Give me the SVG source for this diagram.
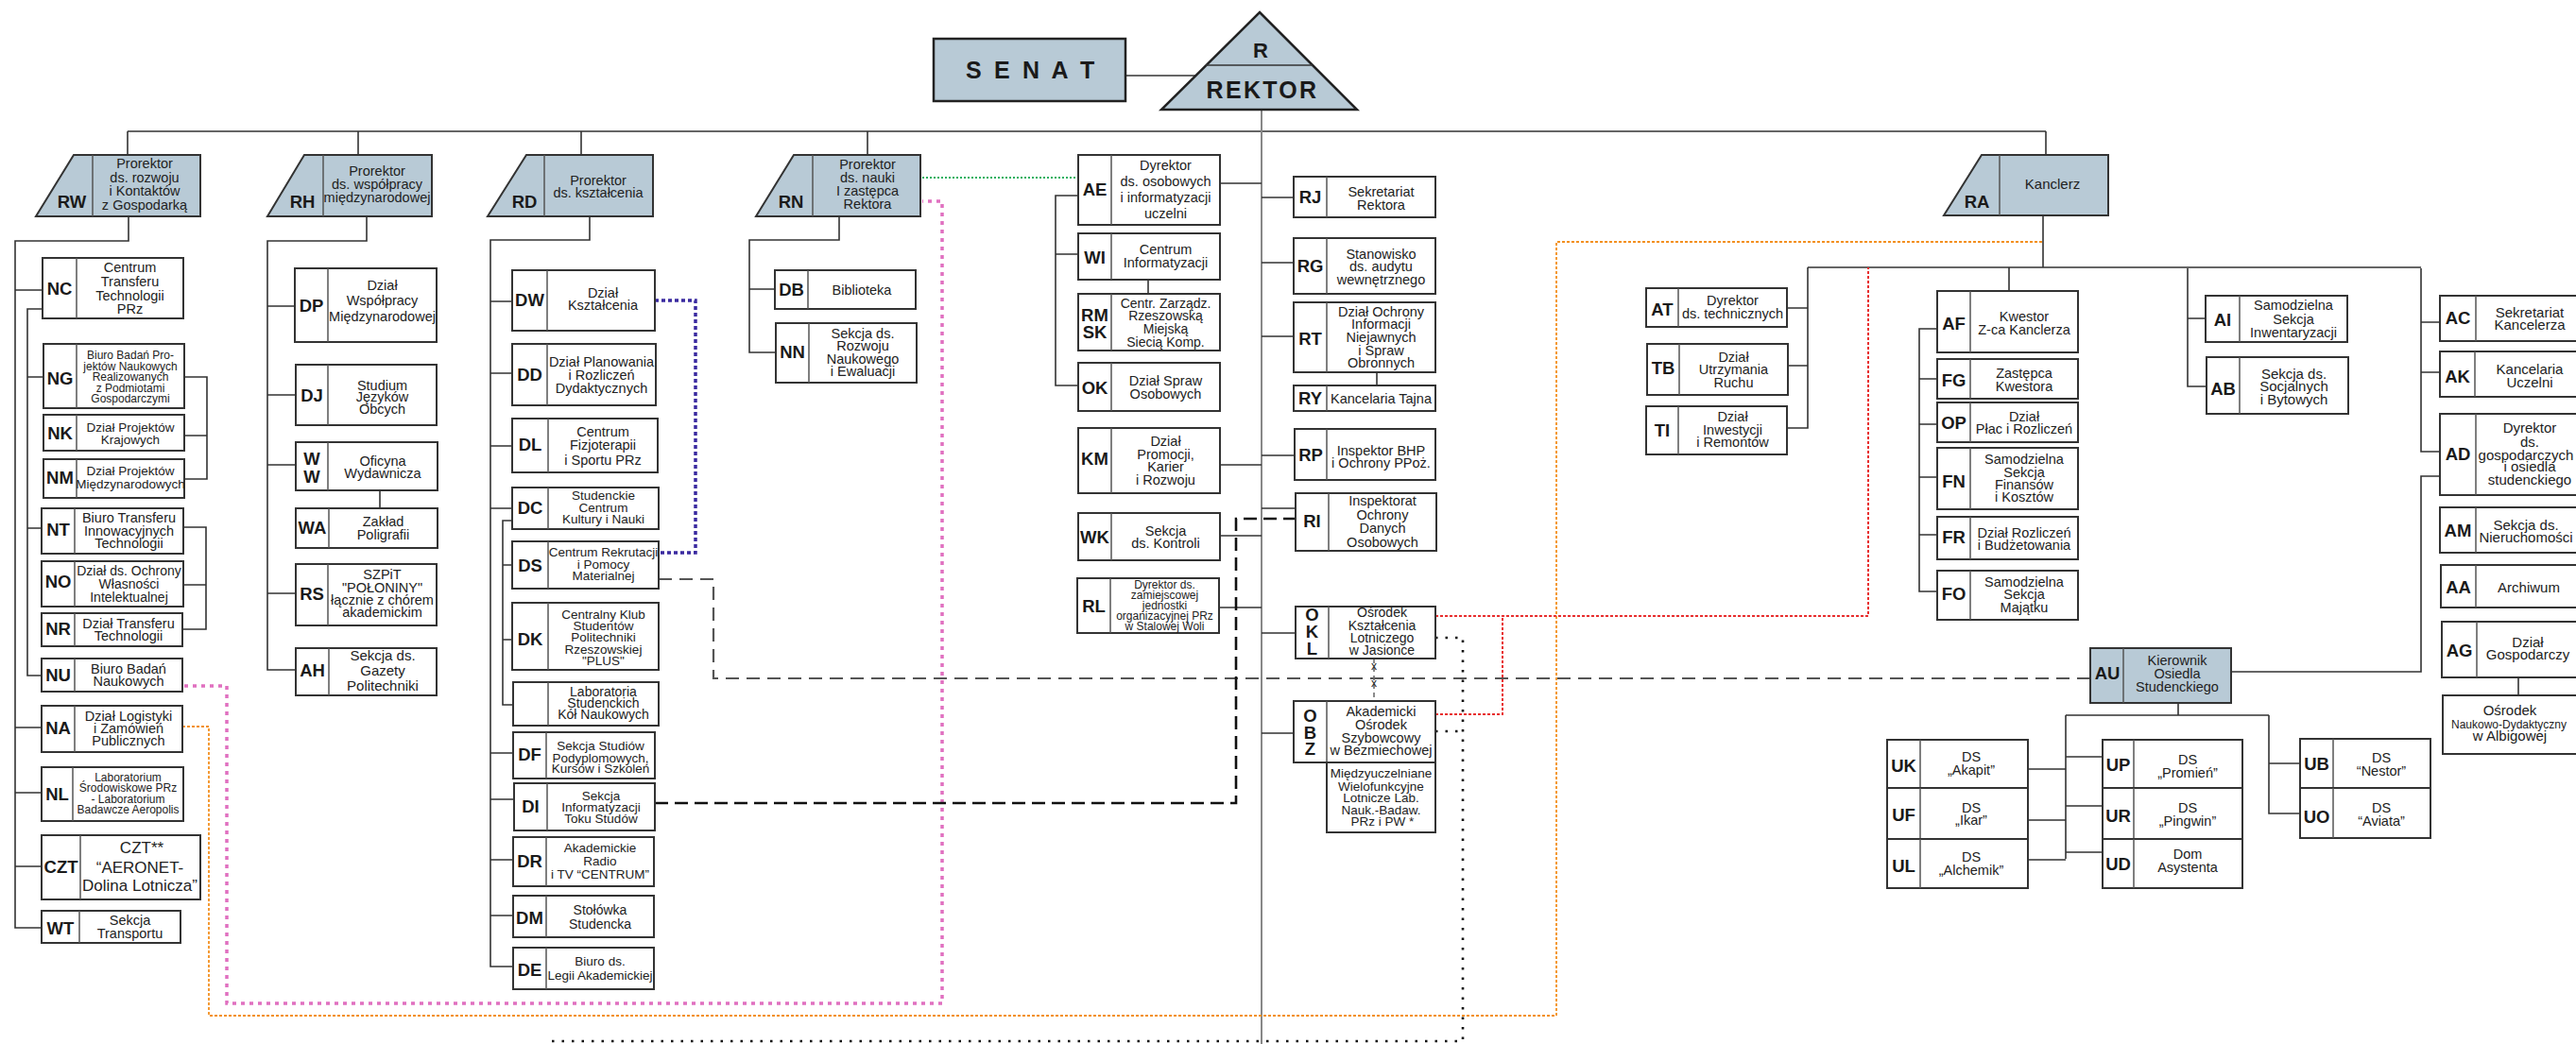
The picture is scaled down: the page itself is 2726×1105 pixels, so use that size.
<svg xmlns="http://www.w3.org/2000/svg" width="2726" height="1105" viewBox="0 0 2726 1105">
<style>
.bx{fill:#fff;stroke:#333;stroke-width:2}
.hd{fill:#b8cad6;stroke:#333;stroke-width:2}
.dv{stroke:#555;stroke-width:1.5}
.lb{font-family:'Liberation Sans',Arial,sans-serif;font-weight:bold;font-size:18.5px;fill:#1a1a1a;text-anchor:middle}
.tx{font-family:'Liberation Sans',Arial,sans-serif;font-size:14.5px;fill:#222;text-anchor:middle}
.s12{font-size:12px}.s135{font-size:13.5px}.s14{font-size:14px}.s15{font-size:15px}.s17{font-size:17px}
.c{fill:none;stroke:#333;stroke-width:1.6}
.cg{fill:none;stroke:#888;stroke-width:2}
</style>
<rect width="2726" height="1105" fill="#fff"/>

<g id="connectors">
<path class="c" d="M135,139 H2165 M135,139 V164 M379,139 V164 M615,139 V164 M918,139 V164 M2165,139 V164"/>
<path class="c" d="M1191,80 H1266"/>
<path class="cg" d="M1335,116 V1105"/>
<path class="c" d="M136,229 V255 H16 V982 H44 M16,307 H45 M16,770 H44 M16,839 H44 M16,917 H44"/>
<path class="c" d="M45,327 H29 V715 H44 M29,399 H46 M29,559 H44"/>
<path class="c" d="M195,399 H219 V507 H195 M195,461 H219"/>
<path class="c" d="M194,558 H218 V666 H193 M194,619 H218"/>
<path class="c" d="M388,229 V255 H283 V709 H313 M283,324 H312 M283,418 H313 M283,492 H313 M283,628 H313 M402,519 V538"/>
<path class="c" d="M624,229 V254 H519 V1023 H543 M519,319 H542 M519,395 H542 M519,472 H542 M519,538 H542 M519,797 H543 M519,846 H544 M519,910 H543 M519,969 H543"/>
<path class="c" d="M542,551 H532 V746 H543 M532,598 H542 M532,677 H542"/>
<path class="c" d="M888,229 V254 H793 V373 H821 M793,306 H820"/>
<path class="c" d="M1291,194 H1335 M1335,209 H1369 M1335,278 H1369 M1335,356 H1369 M1291,492 H1335 M1335,482 H1370 M1335,538 H1371 M1291,567 H1335 M1290,643 H1335 M1335,670 H1371 M1335,776 H1369"/>
<path class="c" d="M1141,207 H1117 V408 H1141 M1117,269 H1141 M1215,296 V311 M1457,394 V408"/>
<path class="c" d="M2162,228 V283 M1913,283 H2562 M1913,283 V453 H1891 M1891,326 H1913 M1892,387 H1913"/>
<path class="c" d="M2126,283 V308 M2050,348 H2031 V626 H2050 M2031,401 H2050 M2031,449 H2050 M2031,505 H2050 M2031,566 H2050"/>
<path class="c" d="M2315,284 V409 H2335 M2315,337 H2334"/>
<path class="c" d="M2562,284 V478 H2582 M2562,341 H2582 M2562,394 H2582"/>
<path class="c" d="M2582,504 H2562 V711 H2361 M2665,717 V736"/>
<path class="c" d="M2305,744 V757 M2186,757 H2401 M2186,757 V909 M2186,801 H2225 M2186,853 H2225 M2186,902 H2225 M2146,814 H2186 M2146,868 H2186 M2146,910 H2186 M2401,757 V861 H2434 M2401,808 H2434"/>
<path fill="none" stroke="#e070c0" stroke-width="3.5" stroke-dasharray="4 5" d="M195,726 H240 V1062 H997 V213 H976"/>
<path fill="none" stroke="#f39020" stroke-width="1.8" stroke-dasharray="3 2" d="M193,769 H221 V1075 H1647 V256 H2162"/>
<path fill="none" stroke="#22b060" stroke-width="1.8" stroke-dasharray="2 2" d="M976,188 H1141"/>
<path fill="none" stroke="#3a2aa0" stroke-width="3.5" stroke-dasharray="4 3" d="M693,318 H736 V585 H697"/>
<path fill="none" stroke="#555" stroke-width="2.2" stroke-dasharray="14 8" d="M697,613 H755 V718 H2212"/>
<path fill="none" stroke="#111" stroke-width="2.6" stroke-dasharray="14 7" d="M693,850 H1308 V549 H1371"/>
<path fill="none" stroke="#e83030" stroke-width="2" stroke-dasharray="3 2" d="M1519,652 H1977 V283 M1519,756 H1590 V652"/>
<path fill="none" stroke="#111" stroke-width="2.6" stroke-dasharray="2.5 8" d="M1519,675 H1548 V1102 H579 M1519,774 H1548"/>
<path fill="none" stroke="#666" stroke-width="1.5" stroke-dasharray="5 4" d="M1454,697 V742"/>
<text class="tx s12" x="1454" y="709">x</text>
<text class="tx s12" x="1454" y="727">x</text>
</g>

<g id="SENAT"><rect x="988" y="41" width="203" height="66" fill="#b8cad6" stroke="#222" stroke-width="2.5"/>
<text x="1022" y="83" font-family="'Liberation Sans',Arial,sans-serif" font-weight="bold" font-size="25" letter-spacing="3.2" fill="#1a1a1a">S E N A T</text></g>

<g id="R"><polygon points="1333,13 1436,116 1229,116" fill="#b8cad6" stroke="#222" stroke-width="2.5"/>
<line x1="1276" y1="69" x2="1389" y2="69" stroke="#333" stroke-width="1.5"/>
<text x="1334" y="61" text-anchor="middle" font-family="'Liberation Sans',Arial,sans-serif" font-weight="bold" font-size="22" fill="#1a1a1a">R</text>
<text x="1336" y="104" text-anchor="middle" font-family="'Liberation Sans',Arial,sans-serif" font-weight="bold" font-size="25" letter-spacing="2.3" fill="#1a1a1a">REKTOR</text></g>

<g id="RW"><polygon class="hd" points="78,164 212,164 212,229 38,229"/><line class="dv" x1="98" y1="164" x2="98" y2="229"/>
<text class="lb" x="76" y="220">RW</text>
<text class="tx"><tspan x="153" y="178">Prorektor</tspan><tspan x="153" y="193">ds. rozwoju</tspan><tspan x="153" y="207">i Kontaktów</tspan><tspan x="153" y="222">z Gospodarką</tspan></text></g>
<g id="RH"><polygon class="hd" points="322,164 457,164 457,229 283,229"/><line class="dv" x1="342" y1="164" x2="342" y2="229"/>
<text class="lb" x="320" y="220">RH</text>
<text class="tx"><tspan x="399" y="186">Prorektor</tspan><tspan x="399" y="200">ds. współpracy</tspan><tspan x="399" y="214">międzynarodowej</tspan></text></g>
<g id="RD"><polygon class="hd" points="557,164 691,164 691,229 516,229"/><line class="dv" x1="576" y1="164" x2="576" y2="229"/>
<text class="lb" x="555" y="220">RD</text>
<text class="tx"><tspan x="633" y="196">Prorektor</tspan><tspan x="633" y="209">ds. kształcenia</tspan></text></g>
<g id="RN"><polygon class="hd" points="840,164 974,164 974,229 800,229" stroke-width="2.5"/><line class="dv" x1="860" y1="164" x2="860" y2="229"/>
<text class="lb" x="837" y="220">RN</text>
<text class="tx"><tspan x="918" y="179">Prorektor</tspan><tspan x="918" y="193">ds. nauki</tspan><tspan x="918" y="207">I zastępca</tspan><tspan x="918" y="221">Rektora</tspan></text></g>
<g id="RA"><polygon class="hd" points="2097,164 2231,164 2231,228 2057,228"/><line class="dv" x1="2116" y1="164" x2="2116" y2="228"/>
<text class="lb" x="2092" y="220">RA</text>
<text class="tx s15" x="2172" y="200">Kanclerz</text></g>

<g id="NC"><rect class="bx" x="45" y="273" width="149" height="64"/><line class="dv" x1="81" y1="273" x2="81" y2="337"/><text class="lb" x="63" y="312">NC</text>
<text class="tx"><tspan x="137.5" y="288">Centrum</tspan><tspan x="137.5" y="303">Transferu</tspan><tspan x="137.5" y="318">Technologii</tspan><tspan x="137.5" y="332">PRz</tspan></text></g>
<g id="NG"><rect class="bx" x="46" y="364" width="149" height="68"/><line class="dv" x1="81" y1="364" x2="81" y2="432"/><text class="lb" x="63.5" y="407">NG</text>
<text class="tx s12"><tspan x="138" y="380">Biuro Badań Pro-</tspan><tspan x="138" y="392">jektów Naukowych</tspan><tspan x="138" y="403">Realizowanych</tspan><tspan x="138" y="415">z Podmiotami</tspan><tspan x="138" y="426">Gospodarczymi</tspan></text></g>
<g id="NK"><rect class="bx" x="46" y="439" width="149" height="38"/><line class="dv" x1="81" y1="439" x2="81" y2="477"/><text class="lb" x="63.5" y="465">NK</text>
<text class="tx s135"><tspan x="138" y="457">Dział Projektów</tspan><tspan x="138" y="470">Krajowych</tspan></text></g>
<g id="NM"><rect class="bx" x="46" y="486" width="149" height="41"/><line class="dv" x1="81" y1="486" x2="81" y2="527"/><text class="lb" x="63.5" y="512">NM</text>
<text class="tx s135"><tspan x="138" y="503">Dział Projektów</tspan><tspan x="138" y="517">Międzynarodowych</tspan></text></g>
<g id="NT"><rect class="bx" x="44" y="538" width="150" height="48"/><line class="dv" x1="79" y1="538" x2="79" y2="586"/><text class="lb" x="61.5" y="567">NT</text>
<text class="tx"><tspan x="136.5" y="553">Biuro Transferu</tspan><tspan x="136.5" y="567">Innowacyjnych</tspan><tspan x="136.5" y="580">Technologii</tspan></text></g>
<g id="NO"><rect class="bx" x="44" y="594" width="150" height="48"/><line class="dv" x1="79" y1="594" x2="79" y2="642"/><text class="lb" x="61.5" y="622">NO</text>
<text class="tx s14"><tspan x="136.5" y="609">Dział ds. Ochrony</tspan><tspan x="136.5" y="623">Własności</tspan><tspan x="136.5" y="637">Intelektualnej</tspan></text></g>
<g id="NR"><rect class="bx" x="44" y="649" width="149" height="35"/><line class="dv" x1="79" y1="649" x2="79" y2="684"/><text class="lb" x="61.5" y="672">NR</text>
<text class="tx"><tspan x="136" y="665">Dział Transferu</tspan><tspan x="136" y="678">Technologii</tspan></text></g>
<g id="NU"><rect class="bx" x="44" y="697" width="149" height="35"/><line class="dv" x1="79" y1="697" x2="79" y2="732"/><text class="lb" x="61.5" y="721">NU</text>
<text class="tx"><tspan x="136" y="713">Biuro Badań</tspan><tspan x="136" y="726">Naukowych</tspan></text></g>
<g id="NA"><rect class="bx" x="44" y="747" width="149" height="49"/><line class="dv" x1="79" y1="747" x2="79" y2="796"/><text class="lb" x="61.5" y="777">NA</text>
<text class="tx"><tspan x="136" y="763">Dział Logistyki</tspan><tspan x="136" y="776">i Zamówień</tspan><tspan x="136" y="789">Publicznych</tspan></text></g>
<g id="NL"><rect class="bx" x="44" y="812" width="150" height="57"/><line class="dv" x1="77" y1="812" x2="77" y2="869"/><text class="lb" x="60.5" y="847">NL</text>
<text class="tx s12"><tspan x="135.5" y="827">Laboratorium</tspan><tspan x="135.5" y="838">Środowiskowe PRz</tspan><tspan x="135.5" y="850">- Laboratorium</tspan><tspan x="135.5" y="861">Badawcze Aeropolis</tspan></text></g>
<g id="CZT"><rect class="bx" x="44" y="884" width="168" height="68"/><line class="dv" x1="85" y1="884" x2="85" y2="952"/><text class="lb" x="64.5" y="924">CZT</text>
<text class="tx s17"><tspan x="150" y="903">CZT**</tspan><tspan x="148" y="924">“AERONET-</tspan><tspan x="148" y="943">Dolina Lotnicza”</tspan></text></g>
<g id="WT"><rect class="bx" x="44" y="964" width="147" height="34"/><line class="dv" x1="84" y1="964" x2="84" y2="998"/><text class="lb" x="64" y="989">WT</text>
<text class="tx"><tspan x="137.5" y="979">Sekcja</tspan><tspan x="137.5" y="993">Transportu</tspan></text></g>

<g id="DP"><rect class="bx" x="312" y="284" width="150" height="78"/><line class="dv" x1="347" y1="284" x2="347" y2="362"/><text class="lb" x="329.5" y="330">DP</text>
<text class="tx"><tspan x="404.5" y="307">Dział</tspan><tspan x="404.5" y="323">Współpracy</tspan><tspan x="404.5" y="340">Międzynarodowej</tspan></text></g>
<g id="DJ"><rect class="bx" x="313" y="386" width="149" height="64"/><line class="dv" x1="347" y1="386" x2="347" y2="450"/><text class="lb" x="330" y="425">DJ</text>
<text class="tx"><tspan x="404.5" y="413">Studium</tspan><tspan x="404.5" y="425">Języków</tspan><tspan x="404.5" y="438">Obcych</tspan></text></g>
<g id="WW"><rect class="bx" x="313" y="468" width="150" height="51"/><line class="dv" x1="347" y1="468" x2="347" y2="519"/><text class="lb"><tspan x="330" y="492">W</tspan><tspan x="330" y="511">W</tspan></text>
<text class="tx"><tspan x="405" y="493">Oficyna</tspan><tspan x="405" y="506">Wydawnicza</tspan></text></g>
<g id="WA"><rect class="bx" x="313" y="538" width="150" height="42"/><line class="dv" x1="348" y1="538" x2="348" y2="580"/><text class="lb" x="330.5" y="565">WA</text>
<text class="tx"><tspan x="405.5" y="557">Zakład</tspan><tspan x="405.5" y="571">Poligrafii</tspan></text></g>
<g id="RS"><rect class="bx" x="313" y="597" width="149" height="65"/><line class="dv" x1="347" y1="597" x2="347" y2="662"/><text class="lb" x="330" y="635">RS</text>
<text class="tx"><tspan x="404.5" y="613">SZPiT</tspan><tspan x="404.5" y="627">"POŁONINY"</tspan><tspan x="404.5" y="640">łącznie z chórem</tspan><tspan x="404.5" y="653">akademickim</tspan></text></g>
<g id="AH"><rect class="bx" x="313" y="686" width="149" height="50"/><line class="dv" x1="348" y1="686" x2="348" y2="736"/><text class="lb" x="330.5" y="716">AH</text>
<text class="tx s15"><tspan x="405" y="699">Sekcja ds.</tspan><tspan x="405" y="715">Gazety</tspan><tspan x="405" y="731">Politechniki</tspan></text></g>

<g id="DW"><rect class="bx" x="542" y="286" width="151" height="64"/><line class="dv" x1="579" y1="286" x2="579" y2="350"/><text class="lb" x="560.5" y="324">DW</text>
<text class="tx"><tspan x="638" y="315">Dział</tspan><tspan x="638" y="328">Kształcenia</tspan></text></g>
<g id="DD"><rect class="bx" x="542" y="364" width="152" height="65"/><line class="dv" x1="579" y1="364" x2="579" y2="429"/><text class="lb" x="560.5" y="403">DD</text>
<text class="tx"><tspan x="636.5" y="388">Dział Planowania</tspan><tspan x="636.5" y="402">i Rozliczeń</tspan><tspan x="636.5" y="416">Dydaktycznych</tspan></text></g>
<g id="DL"><rect class="bx" x="542" y="443" width="154" height="57"/><line class="dv" x1="580" y1="443" x2="580" y2="500"/><text class="lb" x="561" y="477">DL</text>
<text class="tx"><tspan x="638" y="462">Centrum</tspan><tspan x="638" y="476">Fizjoterapii</tspan><tspan x="638" y="492">i Sportu PRz</tspan></text></g>
<g id="DC"><rect class="bx" x="542" y="516" width="155" height="44"/><line class="dv" x1="580" y1="516" x2="580" y2="560"/><text class="lb" x="561" y="544">DC</text>
<text class="tx s135"><tspan x="638.5" y="529">Studenckie</tspan><tspan x="638.5" y="542">Centrum</tspan><tspan x="638.5" y="554">Kultury i Nauki</tspan></text></g>
<g id="DS"><rect class="bx" x="542" y="573" width="155" height="50"/><line class="dv" x1="580" y1="573" x2="580" y2="623"/><text class="lb" x="561" y="605">DS</text>
<text class="tx s135"><tspan x="638.5" y="589">Centrum Rekrutacji</tspan><tspan x="638.5" y="602">i Pomocy</tspan><tspan x="638.5" y="614">Materialnej</tspan></text></g>
<g id="DK"><rect class="bx" x="542" y="638" width="155" height="71"/><line class="dv" x1="580" y1="638" x2="580" y2="709"/><text class="lb" x="561" y="683">DK</text>
<text class="tx s135"><tspan x="638.5" y="655">Centralny Klub</tspan><tspan x="638.5" y="667">Studentów</tspan><tspan x="638.5" y="679">Politechniki</tspan><tspan x="638.5" y="692">Rzeszowskiej</tspan><tspan x="638.5" y="704">"PLUS"</tspan></text></g>
<g id="LSKN"><rect class="bx" x="543" y="722" width="154" height="46"/><line class="dv" x1="580" y1="722" x2="580" y2="768"/>
<text class="tx s14"><tspan x="638.5" y="737">Laboratoria</tspan><tspan x="638.5" y="749">Studenckich</tspan><tspan x="638.5" y="761">Kół Naukowych</tspan></text></g>
<g id="DF"><rect class="bx" x="543" y="775" width="150" height="49"/><line class="dv" x1="578" y1="775" x2="578" y2="824"/><text class="lb" x="560.5" y="805">DF</text>
<text class="tx s135"><tspan x="635.5" y="794">Sekcja Studiów</tspan><tspan x="635.5" y="807">Podyplomowych,</tspan><tspan x="635.5" y="818">Kursów i Szkoleń</tspan></text></g>
<g id="DI"><rect class="bx" x="544" y="829" width="149" height="50"/><line class="dv" x1="579" y1="829" x2="579" y2="879"/><text class="lb" x="561.5" y="860">DI</text>
<text class="tx s135"><tspan x="636" y="847">Sekcja</tspan><tspan x="636" y="859">Informatyzacji</tspan><tspan x="636" y="871">Toku Studów</tspan></text></g>
<g id="DR"><rect class="bx" x="543" y="886" width="149" height="52"/><line class="dv" x1="578" y1="886" x2="578" y2="938"/><text class="lb" x="560.5" y="918">DR</text>
<text class="tx s135"><tspan x="635" y="902">Akademickie</tspan><tspan x="635" y="916">Radio</tspan><tspan x="635" y="930">i TV “CENTRUM”</tspan></text></g>
<g id="DM"><rect class="bx" x="543" y="948" width="149" height="44"/><line class="dv" x1="578" y1="948" x2="578" y2="992"/><text class="lb" x="560.5" y="978">DM</text>
<text class="tx s14"><tspan x="635" y="968">Stołówka</tspan><tspan x="635" y="983">Studencka</tspan></text></g>
<g id="DE"><rect class="bx" x="543" y="1003" width="149" height="44"/><line class="dv" x1="578" y1="1003" x2="578" y2="1047"/><text class="lb" x="560.5" y="1033">DE</text>
<text class="tx s135"><tspan x="635" y="1022">Biuro ds.</tspan><tspan x="635" y="1037">Legii Akademickiej</tspan></text></g>

<g id="DB"><rect class="bx" x="820" y="286" width="149" height="41"/><line class="dv" x1="855" y1="286" x2="855" y2="327"/><text class="lb" x="837.5" y="313">DB</text>
<text class="tx" x="912" y="312">Biblioteka</text></g>
<g id="NN"><rect class="bx" x="821" y="342" width="149" height="63"/><line class="dv" x1="856" y1="342" x2="856" y2="405"/><text class="lb" x="838.5" y="379">NN</text>
<text class="tx"><tspan x="913" y="358">Sekcja ds.</tspan><tspan x="913" y="371">Rozwoju</tspan><tspan x="913" y="385">Naukowego</tspan><tspan x="913" y="398">i Ewaluacji</tspan></text></g>

<g id="AE"><rect class="bx" x="1141" y="164" width="150" height="74"/><line class="dv" x1="1176" y1="164" x2="1176" y2="238"/><text class="lb" x="1158.5" y="207">AE</text>
<text class="tx"><tspan x="1233.5" y="180">Dyrektor</tspan><tspan x="1233.5" y="197">ds. osobowych</tspan><tspan x="1233.5" y="214">i informatyzacji</tspan><tspan x="1233.5" y="231">uczelni</tspan></text></g>
<g id="WI"><rect class="bx" x="1141" y="247" width="150" height="49"/><line class="dv" x1="1176" y1="247" x2="1176" y2="296"/><text class="lb" x="1158.5" y="279">WI</text>
<text class="tx"><tspan x="1233.5" y="269">Centrum</tspan><tspan x="1233.5" y="283">Informatyzacji</tspan></text></g>
<g id="RMSK"><rect class="bx" x="1141" y="311" width="150" height="60"/><line class="dv" x1="1176" y1="311" x2="1176" y2="371"/><text class="lb"><tspan x="1158.5" y="340">RM</tspan><tspan x="1158.5" y="358">SK</tspan></text>
<text class="tx s14"><tspan x="1233.5" y="326">Centr. Zarządz.</tspan><tspan x="1233.5" y="339">Rzeszowską</tspan><tspan x="1233.5" y="353">Miejską</tspan><tspan x="1233.5" y="367">Siecią Komp.</tspan></text></g>
<g id="OK"><rect class="bx" x="1141" y="384" width="150" height="51"/><line class="dv" x1="1176" y1="384" x2="1176" y2="435"/><text class="lb" x="1158.5" y="417">OK</text>
<text class="tx"><tspan x="1233.5" y="408">Dział Spraw</tspan><tspan x="1233.5" y="422">Osobowych</tspan></text></g>
<g id="KM"><rect class="bx" x="1141" y="453" width="150" height="69"/><line class="dv" x1="1176" y1="453" x2="1176" y2="522"/><text class="lb" x="1158.5" y="492">KM</text>
<text class="tx"><tspan x="1233.5" y="472">Dział</tspan><tspan x="1233.5" y="486">Promocji,</tspan><tspan x="1233.5" y="499">Karier</tspan><tspan x="1233.5" y="513">i Rozwoju</tspan></text></g>
<g id="WK"><rect class="bx" x="1141" y="543" width="150" height="50"/><line class="dv" x1="1176" y1="543" x2="1176" y2="593"/><text class="lb" x="1158.5" y="575">WK</text>
<text class="tx"><tspan x="1233.5" y="567">Sekcja</tspan><tspan x="1233.5" y="580">ds. Kontroli</tspan></text></g>
<g id="RL"><rect class="bx" x="1140" y="612" width="150" height="58"/><line class="dv" x1="1175" y1="612" x2="1175" y2="670"/><text class="lb" x="1157.5" y="648">RL</text>
<text class="tx s12"><tspan x="1232.5" y="623">Dyrektor ds.</tspan><tspan x="1232.5" y="634">zamiejscowej</tspan><tspan x="1232.5" y="645">jednostki</tspan><tspan x="1232.5" y="656">organizacyjnej PRz</tspan><tspan x="1232.5" y="667">w Stalowej Woli</tspan></text></g>

<g id="RJ"><rect class="bx" x="1369" y="187" width="150" height="43"/><line class="dv" x1="1404" y1="187" x2="1404" y2="230"/><text class="lb" x="1386.5" y="215">RJ</text>
<text class="tx"><tspan x="1461.5" y="208">Sekretariat</tspan><tspan x="1461.5" y="222">Rektora</tspan></text></g>
<g id="RG"><rect class="bx" x="1369" y="252" width="150" height="59"/><line class="dv" x1="1404" y1="252" x2="1404" y2="311"/><text class="lb" x="1386.5" y="288">RG</text>
<text class="tx"><tspan x="1461.5" y="274">Stanowisko</tspan><tspan x="1461.5" y="287">ds. audytu</tspan><tspan x="1461.5" y="301">wewnętrznego</tspan></text></g>
<g id="RT"><rect class="bx" x="1369" y="320" width="150" height="74"/><line class="dv" x1="1404" y1="320" x2="1404" y2="394"/><text class="lb" x="1386.5" y="365">RT</text>
<text class="tx"><tspan x="1461.5" y="335">Dział Ochrony</tspan><tspan x="1461.5" y="348">Informacji</tspan><tspan x="1461.5" y="362">Niejawnych</tspan><tspan x="1461.5" y="376">i Spraw</tspan><tspan x="1461.5" y="389">Obronnych</tspan></text></g>
<g id="RY"><rect class="bx" x="1369" y="408" width="150" height="27"/><line class="dv" x1="1404" y1="408" x2="1404" y2="435"/><text class="lb" x="1386.5" y="428">RY</text>
<text class="tx" x="1461.5" y="427">Kancelaria Tajna</text></g>
<g id="RP"><rect class="bx" x="1370" y="454" width="149" height="54"/><line class="dv" x1="1404" y1="454" x2="1404" y2="508"/><text class="lb" x="1387" y="488">RP</text>
<text class="tx"><tspan x="1461.5" y="482">Inspektor BHP</tspan><tspan x="1461.5" y="495">i Ochrony PPoż.</tspan></text></g>
<g id="RI"><rect class="bx" x="1371" y="522" width="149" height="61"/><line class="dv" x1="1406" y1="522" x2="1406" y2="583"/><text class="lb" x="1388.5" y="558">RI</text>
<text class="tx"><tspan x="1463" y="535">Inspektorat</tspan><tspan x="1463" y="550">Ochrony</tspan><tspan x="1463" y="564">Danych</tspan><tspan x="1463" y="579">Osobowych</tspan></text></g>
<g id="OKL"><rect class="bx" x="1371" y="642" width="148" height="55"/><line class="dv" x1="1406" y1="642" x2="1406" y2="697"/><text class="lb"><tspan x="1388.5" y="657">O</tspan><tspan x="1388.5" y="675">K</tspan><tspan x="1388.5" y="693">L</tspan></text>
<text class="tx s14"><tspan x="1462.5" y="653">Ośrodek</tspan><tspan x="1462.5" y="667">Kształcenia</tspan><tspan x="1462.5" y="680">Lotniczego</tspan><tspan x="1462.5" y="693">w Jasionce</tspan></text></g>
<g id="OBZ"><rect class="bx" x="1369" y="742" width="150" height="65"/><line class="dv" x1="1404" y1="742" x2="1404" y2="807"/><text class="lb"><tspan x="1386.5" y="764">O</tspan><tspan x="1386.5" y="782">B</tspan><tspan x="1386.5" y="799">Z</tspan></text>
<text class="tx"><tspan x="1461.5" y="758">Akademicki</tspan><tspan x="1461.5" y="772">Ośrodek</tspan><tspan x="1461.5" y="786">Szybowcowy</tspan><tspan x="1461.5" y="799">w Bezmiechowej</tspan></text>
<rect class="bx" x="1404" y="807" width="115" height="74"/>
<text class="tx s135"><tspan x="1461.5" y="823">Międzyuczelniane</tspan><tspan x="1461.5" y="837">Wielofunkcyjne</tspan><tspan x="1461.5" y="849">Lotnicze Lab.</tspan><tspan x="1461.5" y="862">Nauk.-Badaw.</tspan><tspan x="1463" y="874">PRz i PW *</tspan></text></g>

<g id="AT"><rect class="bx" x="1742" y="305" width="149" height="41"/><line class="dv" x1="1776" y1="305" x2="1776" y2="346"/><text class="lb" x="1759" y="334">AT</text>
<text class="tx"><tspan x="1833.5" y="323">Dyrektor</tspan><tspan x="1833.5" y="337">ds. technicznych</tspan></text></g>
<g id="TB"><rect class="bx" x="1743" y="364" width="149" height="54"/><line class="dv" x1="1777" y1="364" x2="1777" y2="418"/><text class="lb" x="1760" y="396">TB</text>
<text class="tx"><tspan x="1834.5" y="383">Dział</tspan><tspan x="1834.5" y="396">Utrzymania</tspan><tspan x="1834.5" y="410">Ruchu</tspan></text></g>
<g id="TI"><rect class="bx" x="1742" y="430" width="149" height="51"/><line class="dv" x1="1776" y1="430" x2="1776" y2="481"/><text class="lb" x="1759" y="462">TI</text>
<text class="tx"><tspan x="1833.5" y="446">Dział</tspan><tspan x="1833.5" y="460">Inwestycji</tspan><tspan x="1833.5" y="473">i Remontów</tspan></text></g>
<g id="AF"><rect class="bx" x="2050" y="308" width="149" height="65"/><line class="dv" x1="2085" y1="308" x2="2085" y2="373"/><text class="lb" x="2067.5" y="349">AF</text>
<text class="tx"><tspan x="2142" y="340">Kwestor</tspan><tspan x="2142" y="354">Z-ca Kanclerza</tspan></text></g>
<g id="FG"><rect class="bx" x="2050" y="380" width="149" height="42"/><line class="dv" x1="2085" y1="380" x2="2085" y2="422"/><text class="lb" x="2067.5" y="409">FG</text>
<text class="tx"><tspan x="2142" y="400">Zastępca</tspan><tspan x="2142" y="414">Kwestora</tspan></text></g>
<g id="OP"><rect class="bx" x="2050" y="426" width="149" height="42"/><line class="dv" x1="2085" y1="426" x2="2085" y2="468"/><text class="lb" x="2067.5" y="454">OP</text>
<text class="tx"><tspan x="2142" y="446">Dział</tspan><tspan x="2142" y="459">Płac i Rozliczeń</tspan></text></g>
<g id="FN"><rect class="bx" x="2050" y="474" width="149" height="65"/><line class="dv" x1="2085" y1="474" x2="2085" y2="539"/><text class="lb" x="2067.5" y="516">FN</text>
<text class="tx"><tspan x="2142" y="491">Samodzielna</tspan><tspan x="2142" y="505">Sekcja</tspan><tspan x="2142" y="518">Finansów</tspan><tspan x="2142" y="531">i Kosztów</tspan></text></g>
<g id="FR"><rect class="bx" x="2050" y="547" width="149" height="45"/><line class="dv" x1="2085" y1="547" x2="2085" y2="592"/><text class="lb" x="2067.5" y="575">FR</text>
<text class="tx"><tspan x="2142" y="569">Dział Rozliczeń</tspan><tspan x="2142" y="582">i Budżetowania</tspan></text></g>
<g id="FO"><rect class="bx" x="2050" y="604" width="149" height="52"/><line class="dv" x1="2085" y1="604" x2="2085" y2="656"/><text class="lb" x="2067.5" y="635">FO</text>
<text class="tx"><tspan x="2142" y="621">Samodzielna</tspan><tspan x="2142" y="634">Sekcja</tspan><tspan x="2142" y="648">Majątku</tspan></text></g>
<g id="AI"><rect class="bx" x="2334" y="313" width="150" height="49"/><line class="dv" x1="2370" y1="313" x2="2370" y2="362"/><text class="lb" x="2352" y="345">AI</text>
<text class="tx"><tspan x="2427" y="328">Samodzielna</tspan><tspan x="2427" y="343">Sekcja</tspan><tspan x="2427" y="357">Inwentaryzacji</tspan></text></g>
<g id="AB"><rect class="bx" x="2335" y="378" width="150" height="60"/><line class="dv" x1="2370" y1="378" x2="2370" y2="438"/><text class="lb" x="2352.5" y="418">AB</text>
<text class="tx s15"><tspan x="2427.5" y="401">Sekcja ds.</tspan><tspan x="2427.5" y="414">Socjalnych</tspan><tspan x="2427.5" y="428">i Bytowych</tspan></text></g>
<g id="AC"><rect class="bx" x="2582" y="313" width="160" height="48"/><line class="dv" x1="2620" y1="313" x2="2620" y2="361"/><text class="lb" x="2601" y="343">AC</text>
<text class="tx s15"><tspan x="2677" y="336">Sekretariat</tspan><tspan x="2677" y="349">Kancelerza</tspan></text></g>
<g id="AK"><rect class="bx" x="2582" y="372" width="160" height="48"/><line class="dv" x1="2619" y1="372" x2="2619" y2="420"/><text class="lb" x="2600.5" y="405">AK</text>
<text class="tx s15"><tspan x="2677" y="396">Kancelaria</tspan><tspan x="2677" y="410">Uczelni</tspan></text></g>
<g id="AD"><rect class="bx" x="2582" y="438" width="160" height="86"/><line class="dv" x1="2620" y1="438" x2="2620" y2="524"/><text class="lb" x="2601" y="487">AD</text>
<text class="tx s15"><tspan x="2677" y="458">Dyrektor</tspan><tspan x="2677" y="473">ds.</tspan><tspan x="2673" y="487">gospodarczych</tspan><tspan x="2677" y="499">i osiedla</tspan><tspan x="2677" y="513">studenckiego</tspan></text></g>
<g id="AM"><rect class="bx" x="2582" y="537" width="160" height="48"/><line class="dv" x1="2620" y1="537" x2="2620" y2="585"/><text class="lb" x="2601" y="568">AM</text>
<text class="tx s15"><tspan x="2673" y="561">Sekcja ds.</tspan><tspan x="2673" y="574">Nieruchomości</tspan></text></g>
<g id="AA"><rect class="bx" x="2583" y="598" width="160" height="45"/><line class="dv" x1="2620" y1="598" x2="2620" y2="643"/><text class="lb" x="2601.5" y="628">AA</text>
<text class="tx s15" x="2676" y="627">Archiwum</text></g>
<g id="AG"><rect class="bx" x="2584" y="658" width="160" height="59"/><line class="dv" x1="2621" y1="658" x2="2621" y2="717"/><text class="lb" x="2602.5" y="695">AG</text>
<text class="tx s15"><tspan x="2675" y="685">Dział</tspan><tspan x="2675" y="698">Gospodarczy</tspan></text></g>
<g id="OND"><rect class="bx" x="2585" y="736" width="160" height="62"/>
<text class="tx s15" x="2656" y="757">Ośrodek</text>
<text class="tx s12" x="2655" y="771">Naukowo-Dydaktyczny</text>
<text class="tx s15" x="2656" y="784">w Albigowej</text></g>

<g id="AU"><rect class="hd" x="2212" y="686" width="149" height="58"/><line class="dv" x1="2247" y1="686" x2="2247" y2="744"/><text class="lb" x="2230" y="719">AU</text>
<text class="tx"><tspan x="2304" y="704">Kierownik</tspan><tspan x="2304" y="718">Osiedla</tspan><tspan x="2304" y="732">Studenckiego</tspan></text></g>
<g id="UK"><rect class="bx" x="1997" y="783" width="149" height="51"/><line class="dv" x1="2032" y1="783" x2="2032" y2="834"/><text class="lb" x="2014.5" y="817">UK</text>
<text class="tx"><tspan x="2086" y="806">DS</tspan><tspan x="2086" y="820">„Akapit”</tspan></text></g>
<g id="UF"><rect class="bx" x="1997" y="834" width="149" height="54"/><line class="dv" x1="2032" y1="834" x2="2032" y2="888"/><text class="lb" x="2014.5" y="869">UF</text>
<text class="tx"><tspan x="2086" y="860">DS</tspan><tspan x="2086" y="873">„Ikar”</tspan></text></g>
<g id="UL"><rect class="bx" x="1997" y="888" width="149" height="52"/><line class="dv" x1="2032" y1="888" x2="2032" y2="940"/><text class="lb" x="2014.5" y="923">UL</text>
<text class="tx"><tspan x="2086" y="912">DS</tspan><tspan x="2086" y="926">„Alchemik”</tspan></text></g>
<g id="UP"><rect class="bx" x="2225" y="783" width="148" height="51"/><line class="dv" x1="2258" y1="783" x2="2258" y2="834"/><text class="lb" x="2241.5" y="816">UP</text>
<text class="tx"><tspan x="2315" y="809">DS</tspan><tspan x="2315" y="823">„Promień”</tspan></text></g>
<g id="UR"><rect class="bx" x="2225" y="834" width="148" height="54"/><line class="dv" x1="2258" y1="834" x2="2258" y2="888"/><text class="lb" x="2241.5" y="870">UR</text>
<text class="tx"><tspan x="2315" y="860">DS</tspan><tspan x="2315" y="874">„Pingwin”</tspan></text></g>
<g id="UD"><rect class="bx" x="2225" y="888" width="148" height="52"/><line class="dv" x1="2258" y1="888" x2="2258" y2="940"/><text class="lb" x="2241.5" y="921">UD</text>
<text class="tx"><tspan x="2315" y="909">Dom</tspan><tspan x="2315" y="923">Asystenta</tspan></text></g>
<g id="UB"><rect class="bx" x="2434" y="782" width="138" height="52"/><line class="dv" x1="2469" y1="782" x2="2469" y2="834"/><text class="lb" x="2451.5" y="815">UB</text>
<text class="tx"><tspan x="2520" y="807">DS</tspan><tspan x="2520" y="821">“Nestor”</tspan></text></g>
<g id="UO"><rect class="bx" x="2434" y="834" width="138" height="53"/><line class="dv" x1="2469" y1="834" x2="2469" y2="887"/><text class="lb" x="2451.5" y="871">UO</text>
<text class="tx"><tspan x="2520" y="860">DS</tspan><tspan x="2520" y="874">“Aviata”</tspan></text></g>
</svg>
